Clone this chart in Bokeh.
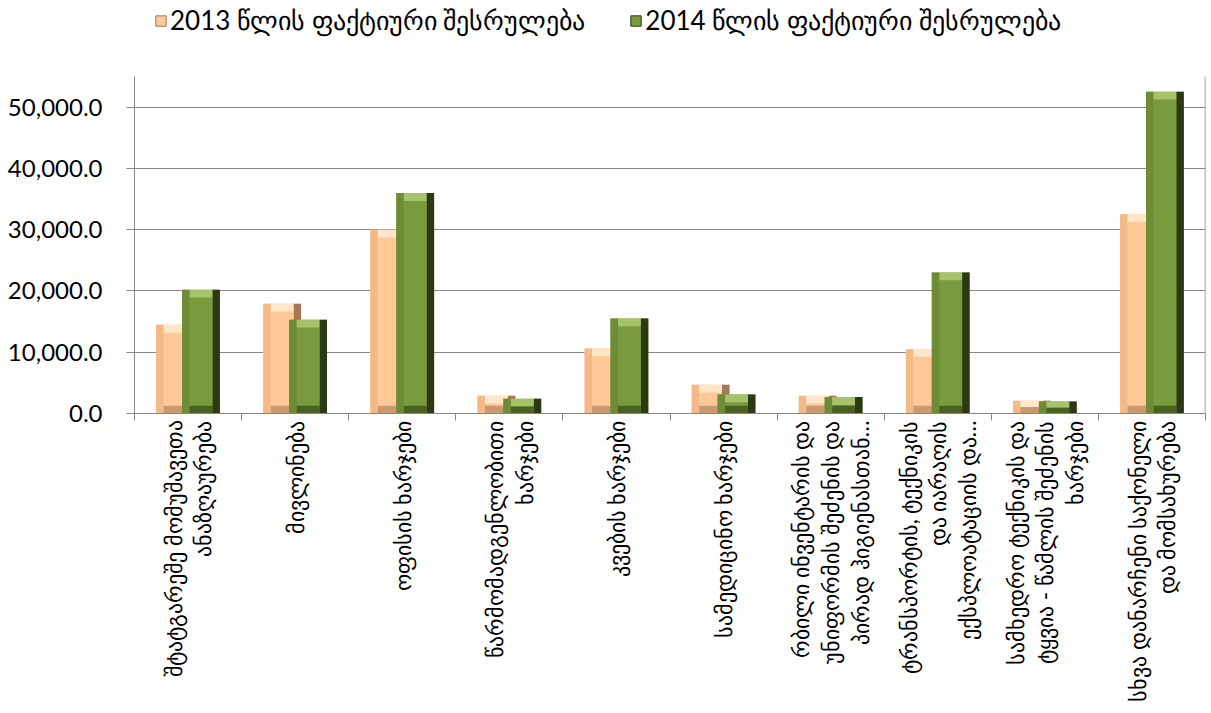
import math
import numpy as np
from bokeh.plotting import figure
from bokeh.layouts import column
from bokeh.models import (Range1d, FixedTicker, NumeralTickFormatter, Span,
                          Legend, LegendItem, ColumnDataSource)
from bokeh.embed import file_html
from bokeh.resources import INLINE

categories = [
    "შტატგარეშე მომუშავეთა\nანაზღაურება",
    "მივლინება",
    "ოფისის ხარჯები",
    "წარმომადგენლობითი\nხარჯები",
    "კვების ხარჯები",
    "სამედიცინო ხარჯები",
    "რბილი ინვენტარის და\nუნიფორმის შეძენის და\nპირად ჰიგიენასთან…",
    "ტრანსპორტის, ტექნიკის\nდა იარაღის\nექსპლოატაციის და…",
    "სამხედრო ტექნიკის და\nტყვია - წამლის შეძენის\nხარჯები",
    "სხვა დანარჩენი საქონელი\nდა მომსახურება",
]
values_2013 = [14500, 17900, 30000, 2900, 10600, 4700, 2900, 10500, 2100, 32500]
values_2014 = [20200, 15300, 36000, 2400, 15500, 3100, 2700, 23000, 1950, 52500]
series_names = ["2013 წლის ფაქტიური შესრულება", "2014 წლის ფაქტიური შესრულება"]
y_ticks = [0, 10000, 20000, 30000, 40000, 50000]

FONT = "Lato"
n = len(categories)
xs = np.arange(1, n + 1)
TOP = 76

p = figure(width=1211, height=713 - TOP, output_backend="svg", toolbar_location=None,
           x_range=Range1d(0.5, n + 0.5), y_range=Range1d(0, 55000),
           min_border_left=134, min_border_right=6, min_border_bottom=300,
           min_border_top=0)
p.outline_line_color = None
p.background_fill_color = "white"
p.border_fill_color = "white"

W = 0.353
OFF = 0.121
S = 0.07
BEV = 55000 * 8 / 338.0

styles = [
    dict(face="#FFC896", top="#FFE6C8", left="#F3BA88", right="#A27859", bottom="#C99A72"),
    dict(face="#7A9A3E", top="#A6C26A", left="#6E8C36", right="#2C3914", bottom="#4B6122"),
]

for k, (vals, st) in enumerate(zip([values_2013, values_2014], styles)):
    c = xs + (OFF if k == 1 else -OFF)
    v = np.array(vals, dtype=float)
    src = ColumnDataSource(dict(
        x=c, top=v, xl=c - W / 2 + S / 2, xr=c + W / 2 - S / 2,
        tb=np.maximum(v - BEV, v * 0.5), bt=np.minimum(BEV, v * 0.5),
    ))
    p.vbar(x="x", width=W, top="top", bottom=0, source=src, fill_color=st["face"], line_color=None)
    p.vbar(x="xl", width=S, top="top", bottom=0, source=src, fill_color=st["left"], line_color=None)
    p.vbar(x="xr", width=S, top="top", bottom=0, source=src, fill_color=st["right"], line_color=None)
    p.vbar(x="x", width=W - 2 * S, top="bt", bottom=0, source=src, fill_color=st["bottom"], line_color=None)
    p.vbar(x="x", width=W - 2 * S, top="top", bottom="tb", source=src, fill_color=st["top"], line_color=None)
    p.vbar(x="x", width=W - 2 * S, top="tb", bottom="bt", source=src, fill_color=st["face"], line_color=None)

p.yaxis.ticker = FixedTicker(ticks=y_ticks)
p.yaxis.formatter = NumeralTickFormatter(format="0,0.0")
p.yaxis.major_label_text_font = FONT
p.yaxis.major_label_text_font_size = "24px"
p.yaxis.major_label_text_color = "#000000"
p.yaxis.axis_line_color = "#878787"
p.yaxis.major_tick_line_color = "#878787"
p.yaxis.major_tick_out = 8
p.yaxis.major_tick_in = 0
p.yaxis.minor_tick_line_color = None
p.yaxis.major_label_standoff = 24

p.ygrid.ticker = FixedTicker(ticks=y_ticks)
p.ygrid.grid_line_color = "#878787"
p.xgrid.grid_line_color = None

p.xaxis.ticker = FixedTicker(ticks=list(xs), minor_ticks=list(np.arange(0.5, n + 1, 1.0)))
p.xaxis.major_label_overrides = {int(i): lab for i, lab in zip(xs, categories)}
p.xaxis.major_label_orientation = math.pi / 2
p.xaxis.major_label_text_font = FONT
p.xaxis.major_label_text_font_size = "22.4px"
p.xaxis.major_label_text_line_height = 1.1
p.xaxis.major_label_text_color = "#000000"
p.xaxis.major_tick_line_color = None
p.xaxis.major_tick_out = 0
p.xaxis.minor_tick_line_color = "#878787"
p.xaxis.minor_tick_out = 7
p.xaxis.minor_tick_in = 0
p.xaxis.axis_line_color = "#878787"
p.xaxis.major_label_standoff = 0

p.add_layout(Span(location=n + 0.5, dimension="height", line_color="#878787", line_width=1.5))

# legend strip on top
lf = figure(width=1211, height=TOP, output_backend="svg", toolbar_location=None,
            x_range=Range1d(0, 1), y_range=Range1d(0, 1),
            min_border_left=0, min_border_right=0, min_border_top=0, min_border_bottom=0)
lf.axis.visible = False
lf.grid.visible = False
lf.outline_line_color = None
dummy = ColumnDataSource(dict(x=[-10.0], top=[-10.0]))
r1 = lf.vbar(x="x", top="top", width=0.1, source=dummy, fill_color=styles[0]["face"], line_color=styles[0]["right"])
r2 = lf.vbar(x="x", top="top", width=0.1, source=dummy, fill_color=styles[1]["face"], line_color=styles[1]["right"])
legend = Legend(items=[LegendItem(label=series_names[0], renderers=[r1]),
                       LegendItem(label=series_names[1], renderers=[r2])],
                orientation="horizontal", location=(20, 40),
                label_text_font=FONT, label_text_font_size="26px",
                label_text_color="#000000", glyph_width=13, glyph_height=13,
                label_standoff=3, spacing=44, border_line_color=None,
                background_fill_alpha=0, padding=0, margin=0)
lf.add_layout(legend)

layout = column(lf, p, spacing=0)
open("out.html", "w").write(file_html(layout, INLINE))
